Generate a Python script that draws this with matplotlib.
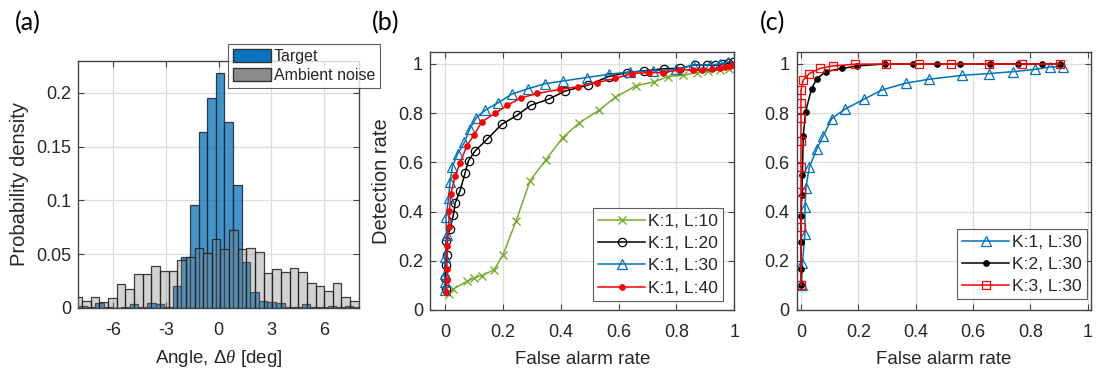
import numpy as np
import matplotlib
matplotlib.use("Agg")
import matplotlib.pyplot as plt
from matplotlib.patches import Patch

plt.rcParams['font.family'] = ['Liberation Sans', 'DejaVu Sans']
plt.rcParams['axes.unicode_minus'] = False
plt.rcParams['mathtext.fontset'] = 'custom'
plt.rcParams['mathtext.rm'] = 'Liberation Sans'
plt.rcParams['mathtext.it'] = 'Liberation Serif:italic'

# ---------------- data ----------------
# (a) histograms
target_start, target_width = -8.0, 0.49
target_density = [0.002, 0.001, 0.004, 0.001, 0.000, 0.001, 0.003, 0.001, 0.004, 0.003,
                  0.001, 0.020, 0.047, 0.096, 0.164, 0.195, 0.219, 0.173, 0.114, 0.043,
                  0.015, 0.006, 0.005, 0.004, 0.001, 0.001, 0.003, 0.001, 0.001, 0.002,
                  0.001, 0.002, 0.001]
noise_start, noise_width = -8.27, 0.4925
noise_density = [0.010, 0.006, 0.010, 0.005, 0.009, 0.022, 0.017, 0.031, 0.031, 0.039,
                 0.034, 0.034, 0.044, 0.047, 0.056, 0.051, 0.064, 0.055, 0.072, 0.055,
                 0.056, 0.052, 0.032, 0.036, 0.033, 0.037, 0.033, 0.023, 0.020, 0.016,
                 0.023, 0.010, 0.006]

# (b) ROC curves, K:1 with various L
b_L10_x = [0.012, 0.029, 0.075, 0.100, 0.127, 0.169, 0.200, 0.245, 0.294, 0.348, 0.406,
           0.463, 0.532, 0.588, 0.659, 0.722, 0.772, 0.824, 0.870, 0.910, 0.950, 0.980]
b_L10_y = [0.065, 0.086, 0.116, 0.130, 0.140, 0.163, 0.224, 0.360, 0.526, 0.610, 0.700,
           0.760, 0.812, 0.864, 0.911, 0.927, 0.949, 0.954, 0.965, 0.970, 0.976, 0.981]
b_L20_x = [0.002, 0.001, 0.003, 0.005, 0.003, 0.017, 0.029, 0.035, 0.052, 0.069, 0.081,
           0.104, 0.146, 0.196, 0.250, 0.296, 0.358, 0.415, 0.495, 0.565, 0.628, 0.686,
           0.758, 0.812, 0.864, 0.904, 0.933, 0.956, 0.979, 0.997]
b_L20_y = [0.084, 0.130, 0.181, 0.222, 0.280, 0.330, 0.388, 0.435, 0.485, 0.557, 0.607,
           0.647, 0.695, 0.755, 0.792, 0.832, 0.857, 0.890, 0.914, 0.949, 0.965, 0.972,
           0.981, 0.982, 0.997, 0.995, 0.995, 0.999, 1.003, 1.006]
b_L30_x = [0.000, -0.002, -0.002, 0.000, 0.006, 0.003, 0.012, 0.017, 0.025, 0.043, 0.067,
           0.085, 0.108, 0.138, 0.184, 0.230, 0.288, 0.346, 0.409, 0.490, 0.565, 0.640,
           0.720, 0.800, 0.858, 0.916, 0.950, 0.979]
b_L30_y = [0.080, 0.113, 0.147, 0.215, 0.305, 0.377, 0.454, 0.519, 0.582, 0.634, 0.681,
           0.735, 0.782, 0.812, 0.843, 0.877, 0.900, 0.920, 0.931, 0.945, 0.958, 0.968,
           0.972, 0.978, 0.995, 0.997, 1.000, 1.008]
b_L40_x = [0.002, 0.006, 0.006, 0.008, 0.012, 0.015, 0.020, 0.035, 0.052, 0.075, 0.100,
           0.127, 0.173, 0.215, 0.262, 0.319, 0.397, 0.461, 0.524, 0.588, 0.645, 0.706,
           0.755, 0.810, 0.858, 0.887, 0.922, 0.950, 0.968, 0.985, 0.997]
b_L40_y = [0.073, 0.120, 0.168, 0.262, 0.336, 0.404, 0.472, 0.546, 0.597, 0.668, 0.711,
           0.765, 0.800, 0.832, 0.862, 0.880, 0.897, 0.908, 0.924, 0.941, 0.961, 0.965,
           0.965, 0.976, 0.976, 0.976, 0.978, 0.985, 0.989, 0.992, 0.995]

# (c) ROC curves, L:30 with various K
c_K1_x = [0.002, 0.005, 0.014, 0.014, 0.017, 0.029, 0.055, 0.078, 0.107, 0.153, 0.220,
          0.284, 0.365, 0.447, 0.563, 0.656, 0.741, 0.816, 0.869, 0.915]
c_K1_y = [0.100, 0.190, 0.310, 0.418, 0.495, 0.580, 0.654, 0.708, 0.778, 0.816, 0.857,
          0.895, 0.922, 0.938, 0.954, 0.961, 0.969, 0.978, 0.988, 0.989]
c_K2_x = [0.000, 0.000, 0.000, 0.000, 0.003, 0.005, 0.008, 0.016, 0.037, 0.055, 0.087,
          0.144, 0.197, 0.293, 0.389, 0.475, 0.554, 0.659, 0.757, 0.842, 0.902]
c_K2_y = [0.100, 0.168, 0.278, 0.381, 0.468, 0.550, 0.708, 0.805, 0.900, 0.940, 0.969,
          0.982, 0.992, 1.000, 1.000, 1.000, 1.000, 1.000, 1.000, 1.000, 1.000]
c_K3_x = [0.000, 0.000, 0.000, 0.000, 0.000, 0.000, 0.000, 0.000, 0.008, 0.029, 0.066,
          0.110, 0.190, 0.298, 0.411, 0.522, 0.656, 0.771, 0.902]
c_K3_y = [0.100, 0.336, 0.478, 0.582, 0.688, 0.780, 0.843, 0.895, 0.935, 0.961, 0.982,
          0.992, 0.999, 1.000, 1.000, 1.000, 1.000, 1.000, 1.000]

# ---------------- style ----------------
AX_COL = '#262626'
GRID_COL = '#dcdcdc'
TICK_FS = 13
LAB_FS = 13.5
YLAB_FS = 14.5

fig = plt.figure(figsize=(10.99, 3.72), dpi=100)

def style(ax):
    ax.grid(True, color=GRID_COL, linewidth=0.9)
    ax.set_axisbelow(True)
    for s in ax.spines.values():
        s.set_color('#444444')
        s.set_linewidth(1.0)
    ax.tick_params(direction='in', length=4, width=0.8, colors='#444444',
                   labelcolor=AX_COL, labelsize=TICK_FS, top=True, right=True)
    ax.tick_params(axis='x', pad=10)
    ax.tick_params(axis='y', pad=5)

def legend_style(leg):
    leg.get_frame().set_linewidth(0.8)
    leg.get_frame().set_edgecolor('#333333')
    for t in leg.get_texts():
        t.set_color(AX_COL)

# ---- (a) ----
axa = fig.add_axes([0.0712, 0.1728, 0.2555, 0.664])
style(axa)
t_edges = target_start + target_width * np.arange(len(target_density))
n_edges = noise_start + noise_width * np.arange(len(noise_density))
axa.bar(t_edges, target_density, width=target_width, align='edge',
        color=(0.0, 0.447, 0.741, 0.75), edgecolor=(0.12, 0.12, 0.12, 0.85),
        linewidth=0.9, zorder=2)
axa.bar(n_edges, noise_density, width=noise_width, align='edge',
        color=(0.5, 0.5, 0.5, 0.35), edgecolor=(0.12, 0.12, 0.12, 0.85),
        linewidth=0.9, zorder=3)
axa.set_xlim(-8, 8)
axa.set_ylim(0, 0.23)
axa.set_xticks([-6, -3, 0, 3, 6])
axa.set_yticks([0, 0.05, 0.1, 0.15, 0.2])
axa.set_yticklabels(['0', '0.05', '0.1', '0.15', '0.2'])
axa.set_xlabel(r'Angle, $\Delta\mathit{\theta}$ [deg]', fontsize=LAB_FS, color=AX_COL, labelpad=7)
axa.set_ylabel('Probability density', fontsize=YLAB_FS, color=AX_COL, labelpad=5)
handles_a = [Patch(facecolor='#0b72bf', edgecolor='#333333', label='Target'),
             Patch(facecolor='#8c8c8c', edgecolor='#333333', label='Ambient noise')]
lega = fig.legend(handles=handles_a, loc='upper left',
                  bbox_to_anchor=(228 / 1099, 1 - 44 / 372), fontsize=11.5,
                  frameon=True, fancybox=False,
                  handlelength=2.4, handleheight=0.9, handletextpad=0.15,
                  borderpad=0.3, labelspacing=0.25, borderaxespad=0.0)
legend_style(lega)

# ---- (b) ----
axb = fig.add_axes([0.3913, 0.1667, 0.2769, 0.6944])
style(axb)
axb.plot(b_L10_x, b_L10_y, color='#77AC30', marker='x', ms=6, mew=1.0, lw=1.1,
         label='K:1, L:10')
axb.plot(b_L20_x, b_L20_y, color='black', marker='o', ms=6, mfc='none', mew=0.9, lw=1.1,
         label='K:1, L:20')
axb.plot(b_L30_x, b_L30_y, color='#0072BD', marker='^', ms=6.5, mfc='none', mew=0.9, lw=1.1,
         label='K:1, L:30')
axb.plot(b_L40_x, b_L40_y, color='red', marker='o', ms=4, mfc='red', mew=0.8, lw=1.1,
         label='K:1, L:40')
axb.set_xlim(-0.052, 1.0)
axb.set_ylim(0, 1.05)
axb.set_xticks([0, 0.2, 0.4, 0.6, 0.8, 1])
axb.set_xticklabels(['0', '0.2', '0.4', '0.6', '0.8', '1'])
axb.set_yticks([0, 0.2, 0.4, 0.6, 0.8, 1])
axb.set_yticklabels(['0', '0.2', '0.4', '0.6', '0.8', '1'])
axb.set_xlabel('False alarm rate', fontsize=LAB_FS, color=AX_COL, labelpad=7)
axb.set_ylabel('Detection rate', fontsize=YLAB_FS, color=AX_COL, labelpad=5)
legb = axb.legend(loc='lower right', bbox_to_anchor=(0.963, 0.035), fontsize=12.6,
                  frameon=True, fancybox=False, handlelength=2.7, handletextpad=0.15,
                  borderpad=0.3, labelspacing=0.4, borderaxespad=0.0)
legend_style(legb)

# ---- (c) ----
axc = fig.add_axes([0.7249, 0.1667, 0.2675, 0.6944])
style(axc)
axc.plot(c_K1_x, c_K1_y, color='#0072BD', marker='^', ms=6.5, mfc='none', mew=0.9, lw=1.1,
         label='K:1, L:30')
axc.plot(c_K2_x, c_K2_y, color='black', marker='o', ms=4, mfc='black', mew=0.8, lw=1.1,
         label='K:2, L:30')
axc.plot(c_K3_x, c_K3_y, color='red', marker='s', ms=5.5, mfc='none', mew=0.9, lw=1.1,
         label='K:3, L:30')
axc.set_xlim(-0.015, 1.01)
axc.set_ylim(0, 1.05)
axc.set_xticks([0, 0.2, 0.4, 0.6, 0.8, 1])
axc.set_xticklabels(['0', '0.2', '0.4', '0.6', '0.8', '1'])
axc.set_yticks([0, 0.2, 0.4, 0.6, 0.8, 1])
axc.set_yticklabels(['0', '0.2', '0.4', '0.6', '0.8', '1'])
axc.set_xlabel('False alarm rate', fontsize=LAB_FS, color=AX_COL, labelpad=7)
legc = axc.legend(loc='lower right', bbox_to_anchor=(0.988, 0.041), fontsize=12.6,
                  frameon=True, fancybox=False, handlelength=2.7, handletextpad=0.15,
                  borderpad=0.3, labelspacing=0.4, borderaxespad=0.0)
legend_style(legc)

# panel labels
for lab, x in [('(a)', 15), ('(b)', 372), ('(c)', 760)]:
    fig.text(x / 1099, 1 - 23 / 372, lab, fontsize=18, color='black',
             family=['Lato', 'Liberation Sans', 'DejaVu Sans'],
             ha='left', va='center')

fig.savefig('out.png', dpi=100)
